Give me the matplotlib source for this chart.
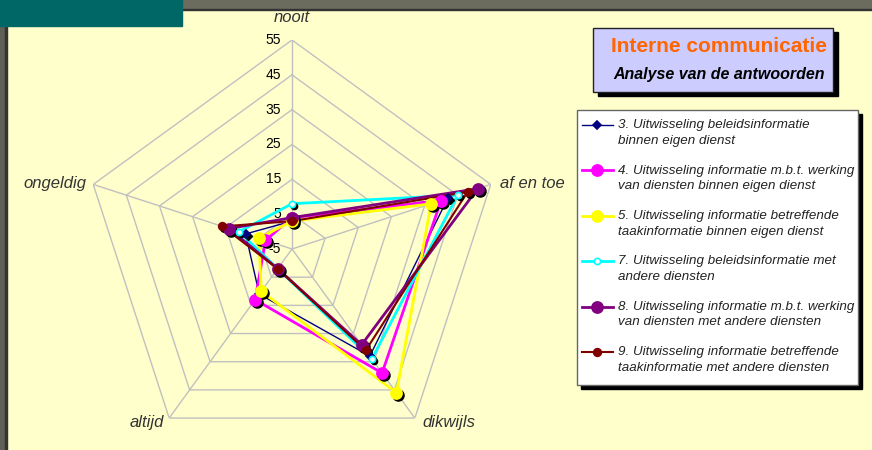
import numpy as np
import matplotlib.pyplot as plt
from matplotlib.patches import Rectangle
from matplotlib.lines import Line2D
from matplotlib.transforms import offset_copy

plt.rcParams['font.family'] = ['Liberation Sans', 'DejaVu Sans']

# data
categories = ['nooit', 'af en toe', 'dikwijls', 'altijd', 'ongeldig']
ticks = [-5, 5, 15, 25, 35, 45, 55]
s3 = [3, 42, 33, 11, 9]
s4 = [4, 40, 39, 13, 3]
s5 = [3, 37, 46, 10, 5]
s7 = [8, 45, 34, 2, 11]
s8 = [4, 51, 29, 2, 14]
s9 = [3, 48, 31, 2, 16]

names = [
    '3. Uitwisseling beleidsinformatie\nbinnen eigen dienst',
    '4. Uitwisseling informatie m.b.t. werking\nvan diensten binnen eigen dienst',
    '5. Uitwisseling informatie betreffende\ntaakinformatie binnen eigen dienst',
    '7. Uitwisseling beleidsinformatie met\nandere diensten',
    '8. Uitwisseling informatie m.b.t. werking\nvan diensten met andere diensten',
    '9. Uitwisseling informatie betreffende\ntaakinformatie met andere diensten',
]
series = [s3, s4, s5, s7, s8, s9]
styles = [
    dict(color='#000080', lw=1.0, marker='D', ms=4.5, mfc='#000080'),
    dict(color='#FF00FF', lw=2.0, marker='o', ms=8, mfc='#FF00FF'),
    dict(color='#FFFF00', lw=2.0, marker='o', ms=8, mfc='#FFFF00'),
    dict(color='#00FFFF', lw=2.0, marker='o', ms=4.5, mfc='white'),
    dict(color='#800080', lw=2.0, marker='o', ms=8, mfc='#800080'),
    dict(color='#800000', lw=1.5, marker='o', ms=5.5, mfc='#800000'),
]

W, H = 872, 450
bg = '#FFFFCC'
fig = plt.figure(figsize=(W / 100, H / 100), dpi=100, facecolor=bg)


def fx(x):
    return x / W


def fy(y):
    return 1 - y / H


# frame decorations
fig.add_artist(Rectangle((fx(182), fy(9)), fx(W) - fx(182), 9 / H, color='#6B6B5E', zorder=0))
fig.add_artist(Rectangle((fx(182), fy(10)), 1, 1.5 / H, color='#333333', zorder=0))
fig.add_artist(Rectangle((0, 0), fx(5), fy(26), color='#5F5F55', zorder=0))
fig.add_artist(Rectangle((fx(5), 0), 1.5 / W, fy(26), color='#333333', zorder=0))
fig.add_artist(Rectangle((0, fy(26)), fx(182), 26 / H, color='#006666', zorder=1))

# radar axes
cx, cy, R = 292, 249, 209
ax = fig.add_axes([fx(cx - R), fy(cy + R), 2 * R / W, 2 * R / H], projection='polar')
ax.set_facecolor('none')
ax.set_theta_zero_location('N')
ax.set_theta_direction(-1)
ax.set_ylim(-5, 55)
ax.grid(False)
ax.spines['polar'].set_visible(False)
ax.set_xticks([])
ax.set_yticks([])

theta = np.deg2rad(np.arange(len(categories)) * 72.0)
closed = np.append(theta, theta[0])

for t in ticks[1:]:
    ax.plot(closed, [t] * len(closed), color='#C0C0C0', lw=1, zorder=1)
for th in theta:
    ax.plot([th, th], [-5, 55], color='#C0C0C0', lw=1, zorder=1)

for t in ticks:
    ax.annotate(str(t), (0, t), xytext=(-8, 0), textcoords='offset points',
                ha='right', va='center', fontsize=10, color='black', zorder=2)

shadow = offset_copy(ax.transData, fig=fig, x=2, y=-2, units='dots')
for vals, st in zip(series, styles):
    v = vals + vals[:1]
    ax.plot(closed, v, color=st['color'], lw=st['lw'], zorder=3)
    ax.plot(theta, vals, ls='none', marker=st['marker'], ms=st['ms'],
            color='black', transform=shadow, zorder=4)
    ax.plot(theta, vals, ls='none', marker=st['marker'], ms=st['ms'],
            mfc=st['mfc'], mec=st['color'], mew=1.2, zorder=5)

# category labels
lab = dict(fontsize=12, style='italic', color='#333333', va='center')
fig.text(fx(292), fy(18), categories[0], ha='center', **lab)
fig.text(fx(500), fy(184), categories[1], ha='left', **lab)
fig.text(fx(422), fy(423), categories[2], ha='left', **lab)
fig.text(fx(164), fy(423), categories[3], ha='right', **lab)
fig.text(fx(86), fy(183), categories[4], ha='right', **lab)

# title box
fig.add_artist(Rectangle((fx(598), fy(96)), (833 - 593) / W, (92 - 28) / H,
                         color='black', zorder=5))
fig.add_artist(Rectangle((fx(593), fy(92)), (833 - 593) / W, (92 - 28) / H,
                         facecolor='#CCCCFF', edgecolor='#222222', lw=1, zorder=6))
fig.text(fx(719), fy(47), 'Interne communicatie', fontsize=15, fontweight='bold',
         color='#FF6600', ha='center', va='center', zorder=7)
fig.text(fx(719), fy(75), 'Analyse van de antwoorden', fontsize=11.5, fontweight='bold',
         style='italic', color='black', ha='center', va='center', zorder=7)

# legend box
fig.add_artist(Rectangle((fx(581), fy(389)), (858 - 577) / W, (385 - 110) / H,
                         color='black', zorder=5))
fig.add_artist(Rectangle((fx(577), fy(385)), (858 - 577) / W, (385 - 110) / H,
                         facecolor='white', edgecolor='#666666', lw=1, zorder=6))
for i, (name, st) in enumerate(zip(names, styles)):
    y = 125 + 45.4 * i
    fig.add_artist(Line2D([fx(582), fx(613)], [fy(y), fy(y)], color=st['color'],
                          lw=st['lw'], zorder=7))
    fig.add_artist(Line2D([fx(597)], [fy(y)], marker=st['marker'], ms=st['ms'],
                          mfc=st['mfc'], mec=st['color'], mew=1.2, zorder=8))
    fig.text(fx(618), fy(y + 8), name, fontsize=9.6, style='italic', color='#222222',
             ha='left', va='center', linespacing=1.38, zorder=8)

fig.savefig('out.png', dpi=100, facecolor=bg)
